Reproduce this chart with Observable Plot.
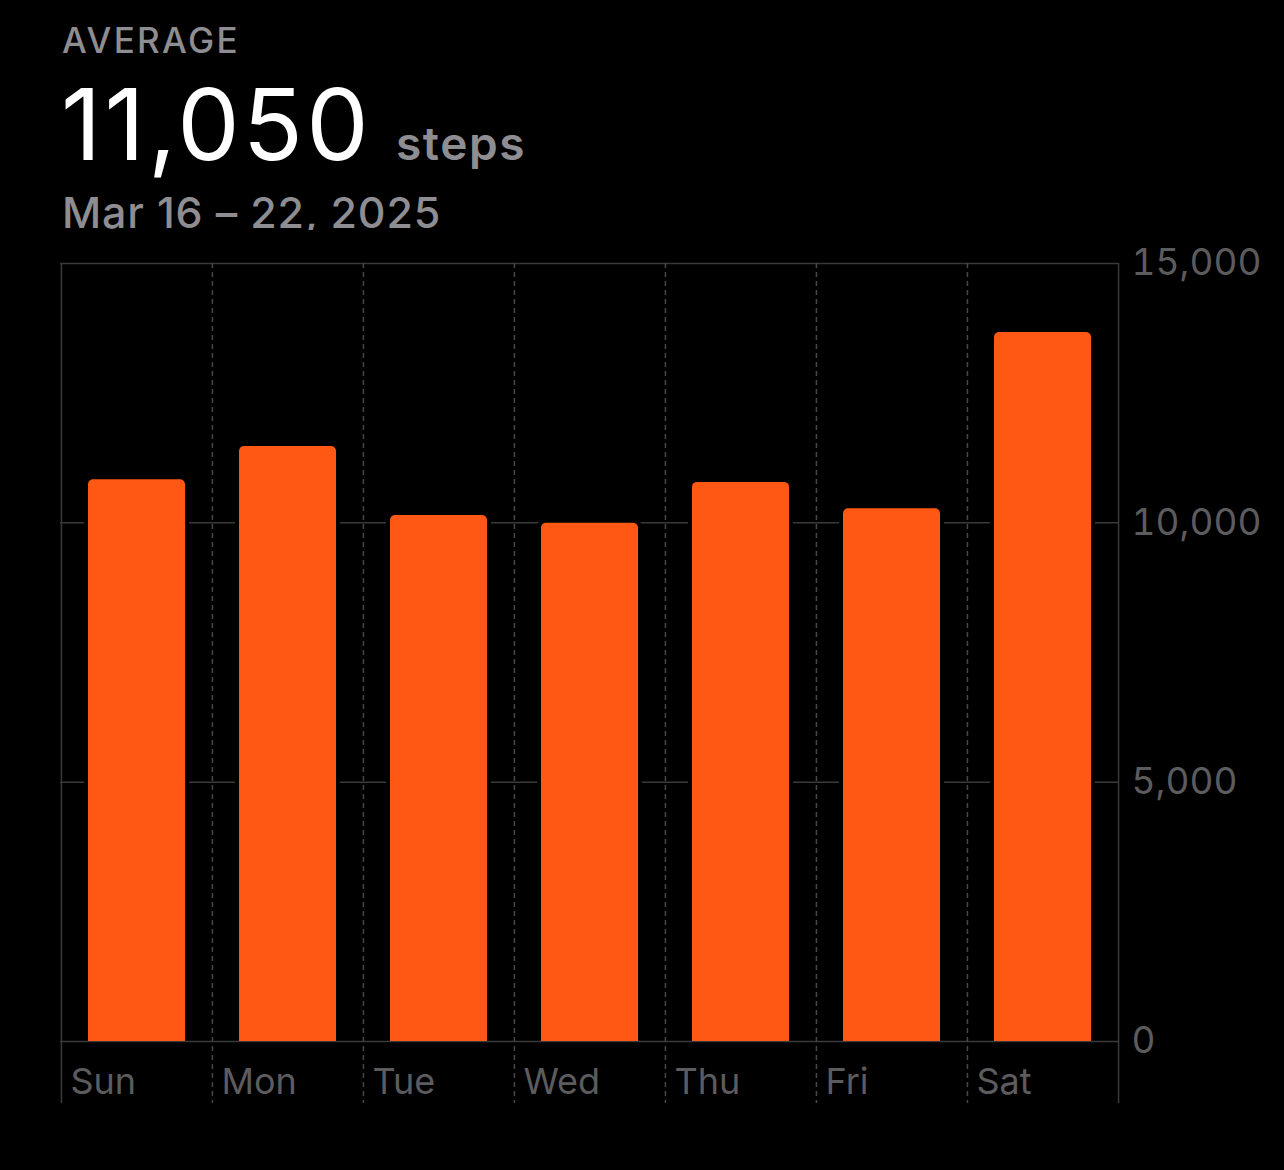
<!DOCTYPE html>
<html>
<head>
<meta charset="utf-8">
<script src="https://cdn.jsdelivr.net/npm/d3@7"></script>
<script src="https://cdn.jsdelivr.net/npm/@observablehq/plot@0.6"></script>
<style>
  html, body { margin: 0; padding: 0; background: #000; width: 1284px; height: 1170px; overflow: hidden; }
  body { position: relative; font-family: Inter, "Noto Sans", sans-serif; }
  .t { position: absolute; line-height: 1; white-space: nowrap; }
  #chart { position: absolute; left: 0; top: 230px; }
</style>
</head>
<body>
<div class="t" style="left:62px; top:23px; font-size:35px; font-weight:500; color:#8d8d92; letter-spacing:2.3px;">AVERAGE</div>
<div class="t" id="avg" style="left:61px; top:75px; font-size:99px; font-weight:400; color:#fff; letter-spacing:3.2px;">11,050</div>
<div class="t" style="left:396px; top:120px; font-size:46px; font-weight:600; color:#8d8d92; letter-spacing:1.6px;">steps</div>
<div class="t" style="left:62px; top:191px; font-size:43px; font-weight:500; color:#8d8d92; letter-spacing:0.8px;">Mar 16 – 22, 2025</div>
<div id="chart"></div>
<script>
const days = ["Sun", "Mon", "Tue", "Wed", "Thu", "Fri", "Sat"];
const steps = [10830, 11470, 10140, 9990, 10780, 10270, 13670];
const yTicks = [0, 5000, 10000, 15000];

const data = days.map((d, i) => ({day: d, steps: steps[i]}));

const width = 1284, height = 900;
const marginLeft = 60, marginRight = 166, marginTop = 33, marginBottom = 89;
const stepPx = (width - marginLeft - marginRight) / days.length;

const gridColor = "#3a3a3c";
const labelColor = "#5c5c5e";
const barColor = "#ff5714";

const chart = Plot.plot({
  width, height, marginLeft, marginRight, marginTop, marginBottom,
  style: {background: "#000", fontFamily: "Inter, 'Noto Sans', sans-serif", overflow: "visible"},
  x: {domain: days, paddingInner: 0.36, paddingOuter: 0.18, axis: null},
  y: {domain: [0, 15000], axis: null},
  marks: [
    Plot.ruleY(yTicks, {stroke: gridColor, strokeWidth: 1.5}),
    Plot.ruleX(days.slice(1), {x: d => d, dx: -stepPx / 2, stroke: "#48484a", strokeWidth: 1.5, strokeDasharray: "5,4", insetBottom: -62}),
    Plot.ruleX([days[0]], {x: d => d, dx: -stepPx / 2, stroke: gridColor, strokeWidth: 1.5, insetBottom: -62}),
    Plot.ruleX([days[days.length - 1]], {x: d => d, dx: stepPx / 2, stroke: gridColor, strokeWidth: 1.5, insetBottom: -62}),
    Plot.barY(data, {x: "day", y: "steps", fill: "#000", insetLeft: -4, insetRight: -4, insetTop: -4, rx: 8}),
    Plot.barY(data, {x: "day", y: "steps", fill: barColor, rx: 5}),
    Plot.barY(data, {x: "day", y: "steps", fill: barColor, insetTop: 8}),
    Plot.axisY(yTicks, {anchor: "right", tickSize: 0, tickPadding: 13, fontSize: 37, fill: labelColor, label: null, tickFormat: d => d.toLocaleString("en-US")}),
    Plot.axisX({tickSize: 0, tickPadding: 27, textAnchor: "start", dx: -stepPx / 2 + 9, fontSize: 36, fill: labelColor, label: null})
  ]
});
document.getElementById("chart").appendChild(chart);
</script>
</body>
</html>
